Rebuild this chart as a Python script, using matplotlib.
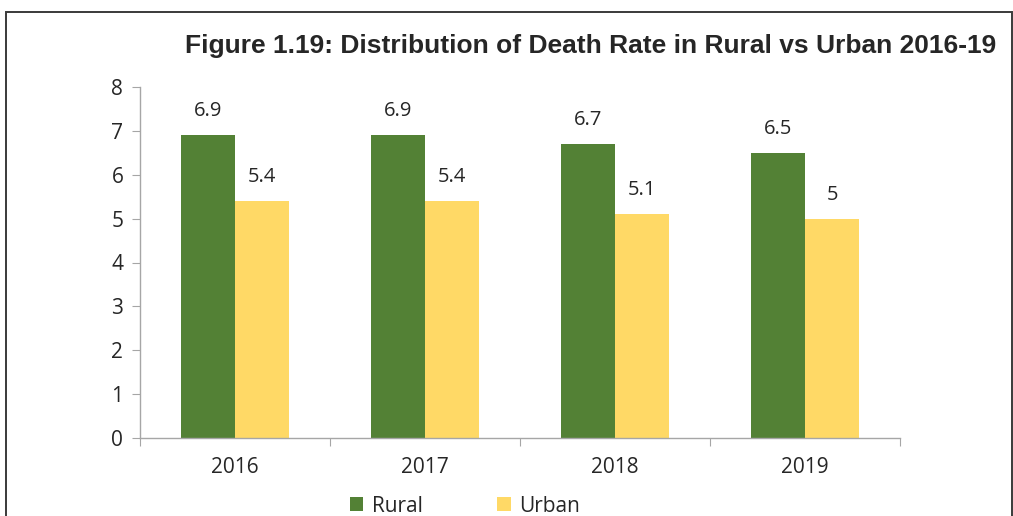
import matplotlib
matplotlib.use("Agg")
import matplotlib.pyplot as plt
from matplotlib.patches import Rectangle
import numpy as np

years = ["2016", "2017", "2018", "2019"]
rural = [6.9, 6.9, 6.7, 6.5]
urban = [5.4, 5.4, 5.1, 5.0]
rural_labels = ["6.9", "6.9", "6.7", "6.5"]
urban_labels = ["5.4", "5.4", "5.1", "5"]
title = "Figure 1.19: Distribution of Death Rate in Rural vs Urban 2016-19"

GREEN = "#538135"
YELLOW = "#FFD966"
TXT = "#262626"
AX = "#A6A6A6"

W, H = 1013, 516
fig = plt.figure(figsize=(W / 100, H / 100), dpi=100)
ax = fig.add_axes([140 / W, 1 - 438 / H, 760 / W, 351 / H])

x = np.arange(len(years))
bw = 0.285
b1 = ax.bar(x - bw / 2, rural, bw, color=GREEN, label="Rural")
b2 = ax.bar(x + bw / 2, urban, bw, color=YELLOW, label="Urban")

for bars, labs in ((b1, rural_labels), (b2, urban_labels)):
    for r, lab in zip(bars, labs):
        ax.annotate(lab, (r.get_x() + r.get_width() / 2, r.get_height()),
                    xytext=(0, 10), textcoords="offset points",
                    ha="center", va="bottom", fontsize=14.5,
                    family="Open Sans", color=TXT)

ax.set_xlim(-0.5, len(years) - 0.5)
ax.set_ylim(0, 8)
ax.set_yticks(range(0, 9))
ax.set_yticklabels([str(i) for i in range(0, 9)], family="Open Sans",
                   fontsize=15, color=TXT)
ax.set_xticks(np.arange(len(years) + 1) - 0.5)
ax.set_xticklabels([])
ax.set_xticks(x, minor=True)
ax.set_xticklabels(years, minor=True, family="Open Sans", fontsize=15, color=TXT)
ax.tick_params(axis="x", which="major", length=6, color=AX, direction="out")
ax.tick_params(axis="x", which="minor", length=0, pad=14)
ax.tick_params(axis="y", length=6, color=AX, pad=6)

for s in ("top", "right"):
    ax.spines[s].set_visible(False)
for s in ("left", "bottom"):
    ax.spines[s].set_color(AX)
    ax.spines[s].set_linewidth(1.0)

fig.text(591 / W, 1 - 46 / H, title, ha="center", va="center",
         fontsize=19, fontweight="bold", family="Liberation Sans", color=TXT)

leg = fig.legend(handles=[b1, b2], labels=["Rural", "Urban"], loc="center",
                 bbox_to_anchor=(465 / W, 1 - 506 / H), ncol=2, frameon=False,
                 prop={"family": "Open Sans", "size": 15}, handlelength=0.65,
                 handleheight=0.65, handletextpad=0.4, columnspacing=3.6)
for t in leg.get_texts():
    t.set_color(TXT)

fig.patches.append(Rectangle((6 / W, -0.05), 1006 / W, 1.05 - 12 / H,
                             transform=fig.transFigure, fill=False,
                             edgecolor="#3a3a3a", linewidth=1.4))

fig.savefig("out.png", dpi=100)
